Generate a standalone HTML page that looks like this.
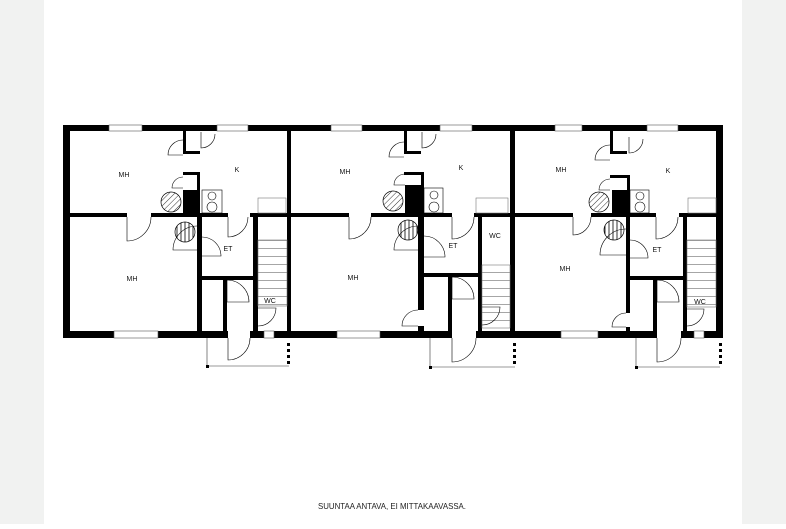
<!DOCTYPE html>
<html><head><meta charset="utf-8"><style>
html,body{margin:0;padding:0;background:#fff}
body{width:786px;height:524px;overflow:hidden}
</style></head><body>
<svg width="786" height="524" viewBox="0 0 786 524" xmlns="http://www.w3.org/2000/svg" font-family="Liberation Sans, sans-serif">
<defs>
<pattern id="h" width="4" height="4" patternUnits="userSpaceOnUse" patternTransform="rotate(45)"><line x1="0" y1="0" x2="0" y2="4" stroke="#000" stroke-width="0.8"/></pattern>
<pattern id="v" width="4" height="4" patternUnits="userSpaceOnUse"><line x1="1" y1="0" x2="1" y2="4" stroke="#000" stroke-width="0.8"/></pattern>
<pattern id="st" width="30" height="8" patternUnits="userSpaceOnUse"><line x1="0" y1="0.5" x2="30" y2="0.5" stroke="#888" stroke-width="0.7"/></pattern>
</defs>
<rect x="0" y="0" width="44" height="524" fill="#f1f2f1"/>
<rect x="742" y="0" width="44" height="524" fill="#f1f2f1"/>
<g fill="#000">
<rect x="63" y="125" width="660" height="6"/>
<rect x="63" y="331" width="660" height="7"/>
<rect x="63" y="125" width="7" height="213"/>
<rect x="716" y="125" width="7" height="213"/>
<rect x="63" y="213" width="660" height="4"/>
<rect x="287" y="125" width="4" height="213"/>
<rect x="510" y="125" width="5" height="213"/>
<rect x="183" y="131" width="3" height="22"/><rect x="183" y="151" width="17" height="3"/>
<rect x="183" y="172" width="17" height="3"/><rect x="197" y="172" width="3" height="18"/>
<rect x="183" y="190" width="17" height="27"/>
<rect x="197" y="217" width="5" height="114"/>
<rect x="253" y="217" width="5" height="114"/>
<rect x="197" y="276" width="58" height="4"/>
<rect x="223" y="276" width="4" height="55"/>
<rect x="404" y="131" width="3" height="22"/><rect x="404" y="151" width="17" height="3"/>
<rect x="404" y="172" width="20" height="3"/><rect x="421" y="172" width="3" height="18"/>
<rect x="405" y="185" width="19" height="32"/>
<rect x="418" y="217" width="6" height="114"/>
<rect x="478" y="217" width="4" height="114"/>
<rect x="418" y="273" width="62" height="4"/>
<rect x="448" y="273" width="4" height="58"/>
<rect x="610" y="131" width="3" height="22"/><rect x="610" y="151" width="17" height="3"/>
<rect x="610" y="175" width="20" height="3"/><rect x="627" y="175" width="3" height="15"/>
<rect x="612" y="190" width="18" height="27"/>
<rect x="626" y="217" width="4" height="114"/>
<rect x="683" y="217" width="4" height="114"/>
<rect x="626" y="276" width="59" height="4"/>
<rect x="653" y="276" width="4" height="55"/>
</g>
<g fill="#fff" stroke="#555" stroke-width="0.6">
<rect x="109" y="125" width="33" height="6"/><rect x="217" y="125" width="31" height="6"/>
<rect x="331" y="125" width="31" height="6"/><rect x="440" y="125" width="32" height="6"/>
<rect x="555" y="125" width="27" height="6"/><rect x="647" y="125" width="31" height="6"/>
<rect x="114" y="331" width="44" height="7"/><rect x="337" y="331" width="43" height="7"/>
<rect x="561" y="331" width="37" height="7"/>
<rect x="264" y="331" width="10" height="7"/><rect x="694" y="331" width="10" height="7"/>
<rect x="127" y="213" width="24" height="4" stroke="none"/><rect x="349" y="213" width="22" height="4" stroke="none"/><rect x="573" y="213" width="18" height="4" stroke="none"/>
<rect x="228" y="331" width="22" height="7" stroke="none"/><rect x="452" y="331" width="24" height="7" stroke="none"/><rect x="657" y="331" width="24" height="7" stroke="none"/>
<rect x="228" y="213" width="22" height="4" stroke="none"/><rect x="452" y="213" width="22" height="4" stroke="none"/><rect x="656" y="213" width="23" height="4" stroke="none"/>
<rect x="418" y="310" width="6" height="16" stroke="none"/><rect x="626" y="313" width="4" height="14" stroke="none"/>
</g>
<g stroke="#777" stroke-width="0.6" fill="none">
<rect x="258" y="240" width="29" height="66" fill="url(#st)"/>
<rect x="482" y="265" width="28" height="63" fill="url(#st)"/>
<rect x="687" y="240" width="29" height="67" fill="url(#st)"/>
</g>
<g fill="none" stroke="#000" stroke-width="0.6">
<path d="M127 217 v24 a24 24 0 0 0 24 -24"/><path d="M349 217 v22 a22 22 0 0 0 22 -22"/><path d="M573 217 v18 a18 18 0 0 0 18 -18"/>
<path d="M197 250 h-24 a24 24 0 0 1 24 -24"/><path d="M418 250 h-24 a24 24 0 0 1 24 -24"/><path d="M626 255 h-26 a26 26 0 0 1 26 -26"/>
<path d="M202 256 h19 a19 19 0 0 0 -19 -19"/><path d="M424 257 h21 a21 21 0 0 0 -21 -21"/><path d="M630 258 h18 a18 18 0 0 0 -18 -18"/>
<path d="M228 338 v22 a22 22 0 0 0 22 -22"/><path d="M452 338 v24 a24 24 0 0 0 24 -24"/><path d="M657 338 v24 a24 24 0 0 0 24 -24"/>
<path d="M228 217 v20 a20 20 0 0 0 20 -20"/><path d="M452 217 v22 a22 22 0 0 0 22 -22"/><path d="M656 217 v22 a22 22 0 0 0 22 -22"/>
<path d="M258 308 h18 a18 18 0 0 1 -18 18"/><path d="M482 307 h18 a18 18 0 0 1 -18 18"/><path d="M687 309 h17 a17 17 0 0 1 -17 17"/>
<path d="M227 280 v22 h22 a22 22 0 0 0 -22 -22"/><path d="M452 277 v22 h22 a22 22 0 0 0 -22 -22"/><path d="M657 280 v22 h22 a22 22 0 0 0 -22 -22"/>
<path d="M183 155 h-15 a15 15 0 0 1 15 -15"/><path d="M404 157 h-15 a15 15 0 0 1 15 -15"/><path d="M610 160 h-15 a15 15 0 0 1 15 -15"/>
<path d="M183 188 h-11 a11 11 0 0 1 11 -11"/><path d="M405 185 h-11 a11 11 0 0 1 11 -11"/><path d="M610 190 h-11 a11 11 0 0 1 11 -11"/>
<path d="M201 132 v16 a14 14 0 0 0 14 -14"/><path d="M422 132 v16 a14 14 0 0 0 14 -14"/><path d="M629 137 v16 a14 14 0 0 0 14 -14"/>
<path d="M418 326 h-16 a16 16 0 0 1 16 -16"/><path d="M626 327 h-14 a14 14 0 0 1 14 -14"/>
<rect x="202" y="190" width="20" height="23"/><circle cx="212" cy="196" r="4"/><circle cx="212" cy="207" r="5"/>
<rect x="424" y="188" width="19" height="25"/><circle cx="434" cy="195" r="4"/><circle cx="434" cy="207" r="5"/>
<rect x="630" y="190" width="19" height="23"/><circle cx="640" cy="196" r="4"/><circle cx="640" cy="207" r="5"/>
<rect x="258" y="198" width="28" height="15" stroke="#777"/><rect x="476" y="198" width="32" height="15" stroke="#777"/><rect x="688" y="198" width="28" height="15" stroke="#777"/>
<path d="M207 338 v28 h82" stroke="#333"/><path d="M430 338 v29 h85" stroke="#333"/><path d="M636 338 v29 h84" stroke="#333"/>
</g>
<g stroke="#000" stroke-width="0.7">
<circle cx="171" cy="202" r="10" fill="url(#h)"/><circle cx="185" cy="232" r="10" fill="url(#v)"/>
<circle cx="393" cy="201" r="10" fill="url(#h)"/><circle cx="408" cy="230" r="10" fill="url(#v)"/>
<circle cx="599" cy="202" r="10" fill="url(#h)"/><circle cx="614" cy="230" r="10" fill="url(#v)"/>
</g>
<g fill="#000">
<rect x="287" y="343" width="3" height="3"/><rect x="287" y="349" width="3" height="3"/><rect x="287" y="355" width="3" height="3"/><rect x="287" y="361" width="3" height="3"/><rect x="206" y="365" width="3" height="3"/>
<rect x="513" y="343" width="3" height="3"/><rect x="513" y="349" width="3" height="3"/><rect x="513" y="355" width="3" height="3"/><rect x="513" y="361" width="3" height="3"/><rect x="429" y="366" width="3" height="3"/>
<rect x="719" y="343" width="3" height="3"/><rect x="719" y="349" width="3" height="3"/><rect x="719" y="355" width="3" height="3"/><rect x="719" y="361" width="3" height="3"/><rect x="635" y="366" width="3" height="3"/>
</g>
<g font-size="7" text-anchor="middle" fill="#111">
<text x="124" y="177">MH</text><text x="237" y="172">K</text><text x="132" y="281">MH</text><text x="228" y="251">ET</text><text x="270" y="303">WC</text>
<text x="345" y="174">MH</text><text x="461" y="170">K</text><text x="353" y="280">MH</text><text x="453" y="248">ET</text><text x="495" y="238">WC</text>
<text x="561" y="172">MH</text><text x="668" y="173">K</text><text x="565" y="271">MH</text><text x="657" y="252">ET</text><text x="700" y="304">WC</text>
</g>
<text x="318" y="509" font-size="8" textLength="148" lengthAdjust="spacingAndGlyphs" fill="#222">SUUNTAA ANTAVA, EI MITTAKAAVASSA.</text>
</svg>
</body></html>
